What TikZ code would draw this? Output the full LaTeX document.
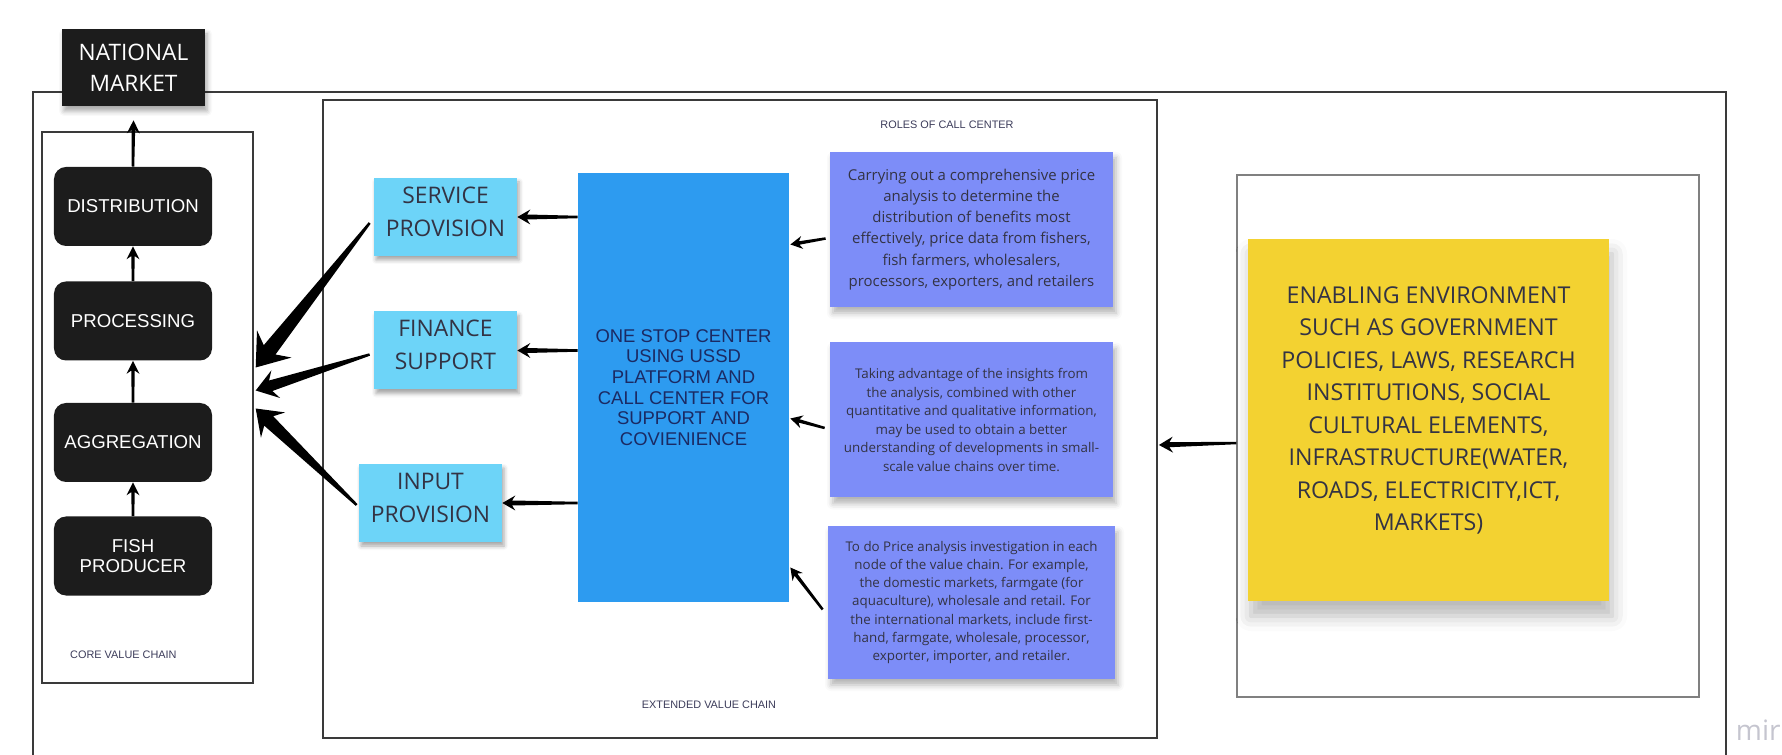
\documentclass[tikz,border=0pt]{standalone}
\usepackage{fontspec}
\setmainfont{Liberation Sans}
\newfontfamily\notefont{Open Sans}
\usetikzlibrary{calc,shadows.blur}

\definecolor{chainblack}{HTML}{1C1C1C}
\definecolor{skyblue}{HTML}{6DD4F8}
\definecolor{hubblue}{HTML}{2D9BF0}
\definecolor{roleviolet}{HTML}{7D8DF8}
\definecolor{noteyellow}{HTML}{F3D231}
\definecolor{framegray}{HTML}{3A3A3A}
\definecolor{navytext}{HTML}{1B2A63}
\definecolor{notetext}{HTML}{333344}
\definecolor{labeltext}{HTML}{3C3C5A}
\definecolor{markgray}{HTML}{C5C5CF}

\newcommand{\flowarrow}[5]{%
  \path ($(#2)!#5!(#1)$) coordinate (tbarb) ($(#2)!0.75*#5!(#1)$) coordinate (tneck);
  \fill ($(#1)!0.25mm!-90:(tneck)$) -- ($(tneck)!#3!90:(#1)$) -- ($(tbarb)!#4!90:(#1)$) -- (#2)
    -- ($(tbarb)!#4!-90:(#1)$) -- ($(tneck)!#3!-90:(#1)$) -- ($(#1)!0.25mm!90:(tneck)$) -- cycle;
}

\begin{document}
\begin{tikzpicture}[x=0.2mm, y=-0.2mm,
    chainbox/.style={fill=chainblack, rounded corners=2.4mm, minimum width=31.6mm, minimum height=15.8mm,
      text=white, align=center, font=\fontsize{10.6}{11.8}\selectfont},
    stickyblue/.style={fill=skyblue, minimum width=28.6mm, minimum height=15.6mm, align=center, text=notetext,
      font=\notefont\fontsize{13}{18.8}\selectfont, text depth=2.2mm,
      blur shadow={shadow xshift=0.4mm, shadow yshift=-0.8mm, shadow opacity=35, shadow blur radius=0.8mm}},
    rolenote/.style={fill=roleviolet, minimum width=56.6mm, minimum height=31mm, align=center, text=notetext,
      blur shadow={shadow xshift=0.6mm, shadow yshift=-1.2mm, shadow opacity=30, shadow blur radius=1.2mm}},
    boxframe/.style={draw=framegray, line width=0.8pt},
    smalllabel/.style={font=\fontsize{6.2}{7}\selectfont, text=labeltext}]

    \useasboundingbox (0,0) rectangle (1782,755);

    \draw[framegray, line width=1.3pt] (33,755) -- (33,92) -- (1726,92) -- (1726,755);

    \node[boxframe, minimum width=42.2mm, minimum height=110.2mm] (core) at (147.5,407.5) {};
    \node[boxframe, line width=1pt, minimum width=166.8mm, minimum height=127.6mm] (ext) at (740,419) {};
    \node[boxframe, draw=gray, minimum width=92.4mm, minimum height=104.4mm] (env) at (1468,436) {};

    \node[chainbox, rounded corners=0pt, minimum width=28.6mm, minimum height=15.4mm,
      font=\notefont\fontsize{12.9}{17.6}\selectfont,
      blur shadow={shadow xshift=0.4mm, shadow yshift=-1mm, shadow opacity=35, shadow blur radius=1mm}]
      (nat) at (133.5,67.5) {NATIONAL\\MARKET};

    \node[chainbox] (dist) at (133,206.5) {DISTRIBUTION};
    \node[chainbox] (proc) at (133,321) {PROCESSING};
    \node[chainbox] (aggr) at (133,442.5) {AGGREGATION};
    \node[chainbox] (fish) at (133,556) {FISH\\PRODUCER};
    \node[smalllabel, anchor=west] (corelbl) at (64,655) {CORE VALUE CHAIN};

    \node[stickyblue] (svc) at (445.5,217) {SERVICE\\PROVISION};
    \node[stickyblue] (fin) at (445.5,350.5) {FINANCE\\SUPPORT};
    \node[stickyblue] (inp) at (430.5,503) {INPUT\\PROVISION};

    \node[fill=hubblue, minimum width=42.2mm, minimum height=85.8mm, align=center, text=navytext,
      font=\fontsize{10.5}{11.8}\selectfont] (hub) at (683.5,387.5)
      {ONE STOP CENTER\\USING USSD\\PLATFORM AND\\CALL CENTER FOR\\SUPPORT AND\\COVIENIENCE};

    \node[smalllabel] (rolelbl) at (947,125) {ROLES OF CALL CENTER};
    \node[rolenote, font=\notefont\fontsize{8.5}{12}\selectfont] (role1) at (971.5,229.5)
      {Carrying out a comprehensive price\\analysis to determine the\\distribution of benefits most\\effectively, price data from fishers,\\fish farmers, wholesalers,\\processors, exporters, and retailers};
    \node[rolenote, font=\notefont\fontsize{7.6}{10.6}\selectfont] (role2) at (971.5,420)
      {Taking advantage of the insights from\\the analysis, combined with other\\quantitative and qualitative information,\\may be used to obtain a better\\understanding of developments in small-\\scale value chains over time.};
    \node[rolenote, minimum width=57.4mm, minimum height=30.6mm, font=\notefont\fontsize{7.6}{10.4}\selectfont] (role3) at (971.5,602.5)
      {To do Price analysis investigation in each\\node of the value chain. For example,\\the domestic markets, farmgate (for\\aquaculture), wholesale and retail. For\\the international markets, include first-\\hand, farmgate, wholesale, processor,\\exporter, importer, and retailer.};
    \node[smalllabel] (extlbl) at (709,705) {EXTENDED VALUE CHAIN};

    \node[fill=noteyellow, minimum width=72.2mm, minimum height=72.4mm, align=center, text=notetext,
      font=\notefont\fontsize{13.2}{18.5}\selectfont, text depth=4.6mm,
      blur shadow={shadow xshift=0.6mm, shadow yshift=-3mm, shadow opacity=28, shadow blur radius=3mm}]
      (note) at (1428.5,420)
      {ENABLING ENVIRONMENT\\SUCH AS GOVERNMENT\\POLICIES, LAWS, RESEARCH\\INSTITUTIONS, SOCIAL\\CULTURAL ELEMENTS,\\INFRASTRUCTURE(WATER,\\ROADS, ELECTRICITY,ICT,\\MARKETS)};

    \node[text=markgray, font=\notefont\fontsize{16}{16}\selectfont, anchor=base east, inner sep=0pt] (mark) at (1781,740) {mir};

    \coordinate (natin) at ($(nat.south)+(0,14)$);
    \coordinate (svcout) at ($(svc.west)+(-4,6)$);
    \coordinate (finout) at ($(fin.west)+(-4,4)$);
    \coordinate (inpout) at ($(inp.west)+(-2,2)$);
    \coordinate (corein1) at ($(core.east)+(2,-40)$);
    \coordinate (corein2) at ($(core.east)+(2,-17)$);
    \coordinate (corein3) at ($(core.east)+(2,1)$);
    \coordinate (hubout1) at (hub.west |- svc.east);
    \coordinate (hubout2) at (hub.west |- fin.east);
    \coordinate (hubout3) at (hub.west |- inp.east);
    \coordinate (role1out) at ($(role1.west)+(-4,9)$);
    \coordinate (role2out) at ($(role2.west)+(-5,8)$);
    \coordinate (role3out) at ($(role3.west)+(-5,7)$);
    \coordinate (hubin1) at ($(hub.east)+(1,-143)$);
    \coordinate (hubin2) at ($(hub.east)+(1,31)$);
    \coordinate (hubin3) at ($(hub.east)+(1,180)$);
    \coordinate (envout) at ($(env.west)+(0,7)$);
    \coordinate (extin) at ($(ext.east)+(1,26)$);

    \flowarrow{fish.north}{aggr.south}{0.35mm}{1.3mm}{2.6mm}
    \flowarrow{aggr.north}{proc.south}{0.35mm}{1.3mm}{2.6mm}
    \flowarrow{proc.north}{dist.south}{0.35mm}{1.3mm}{2.6mm}
    \flowarrow{dist.north}{natin}{0.35mm}{1.3mm}{2.6mm}

    \flowarrow{hubout1}{svc.east}{0.5mm}{1.5mm}{2.6mm}
    \flowarrow{hubout2}{fin.east}{0.5mm}{1.5mm}{2.6mm}
    \flowarrow{hubout3}{inp.east}{0.5mm}{1.5mm}{2.6mm}

    \flowarrow{role1out}{hubin1}{0.35mm}{1.3mm}{2.4mm}
    \flowarrow{role2out}{hubin2}{0.35mm}{1.3mm}{2.4mm}
    \flowarrow{role3out}{hubin3}{0.35mm}{1.3mm}{2.4mm}

    \flowarrow{envout}{extin}{0.5mm}{1.6mm}{2.8mm}

    \flowarrow{svcout}{corein1}{1.5mm}{4.4mm}{6mm}
    \flowarrow{finout}{corein2}{1.1mm}{2.9mm}{4.2mm}
    \flowarrow{inpout}{corein3}{1.3mm}{3.5mm}{4.8mm}
\end{tikzpicture}
\end{document}
